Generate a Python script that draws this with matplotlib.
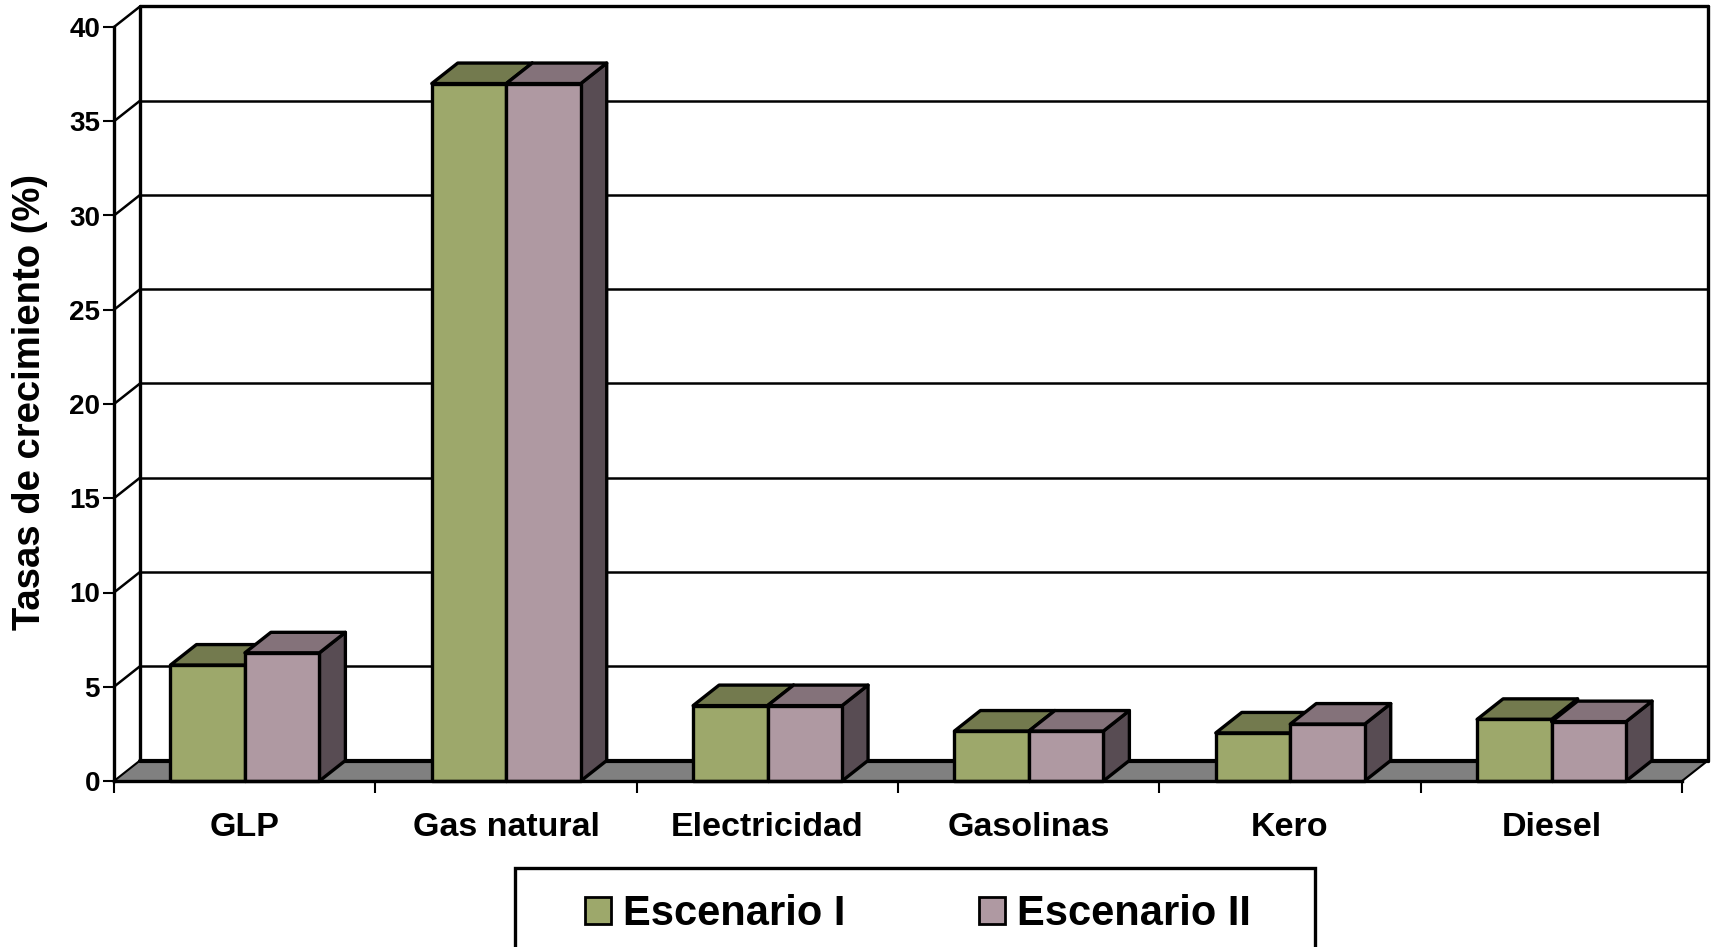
import matplotlib
matplotlib.use('Agg')
import matplotlib.pyplot as plt
from matplotlib.patches import Polygon, Patch, Rectangle

categorias = ['GLP', 'Gas natural', 'Electricidad', 'Gasolinas', 'Kero', 'Diesel']
escenario_1 = [6.15, 37.0, 4.0, 2.65, 2.55, 3.27]
escenario_2 = [6.8, 37.0, 4.0, 2.65, 3.02, 3.15]
y_ticks = [0, 5, 10, 15, 20, 25, 30, 35, 40]

plt.rcParams['font.family'] = ['Liberation Sans', 'DejaVu Sans']
plt.rcParams['font.weight'] = 'bold'

W, H = 1715, 947
fig = plt.figure(figsize=(W / 100, H / 100), dpi=100, facecolor='white')
ax = fig.add_axes([114 / W, (H - 781) / H, (1682 - 114) / W, 754 / H])
ax.set_xlim(0, 6)
ax.set_ylim(0, 40)

# depth of the fake 3d, in data units
dx = 26 / 261.5
dy = 20.5 / 18.85
bar_w = 0.285
offset = 0.216
lw_main = 2.4
lw_grid = 1.8


def poly(points, color, z, lw=lw_main):
    ax.add_patch(Polygon(points, closed=True, facecolor=color, edgecolor='black',
                         linewidth=lw, joinstyle='round', zorder=z, clip_on=False))


def line(xs, ys, lw=lw_grid, z=2):
    ax.plot(xs, ys, color='black', linewidth=lw, zorder=z, clip_on=False,
            solid_capstyle='round')


def bar3d(x, value, front, top, side, z):
    poly([(x + bar_w, 0), (x + bar_w + dx, dy), (x + bar_w + dx, value + dy), (x + bar_w, value)], side, z)
    poly([(x, value), (x + dx, value + dy), (x + bar_w + dx, value + dy), (x + bar_w, value)], top, z)
    poly([(x, 0), (x + bar_w, 0), (x + bar_w, value), (x, value)], front, z)


# walls and gridlines
for v in y_ticks[1:]:
    line([0, dx], [v, v + dy])
    line([dx, 6 + dx], [v + dy, v + dy], lw=lw_main if v == 40 else lw_grid)
line([dx, dx], [dy, 40 + dy], lw=lw_main)
line([6 + dx, 6 + dx], [dy, 40 + dy], lw=lw_main)

# floor
poly([(0, 0), (6, 0), (6 + dx, dy), (dx, dy)], '#808080', 3, lw=0)
line([dx, 6 + dx], [dy, dy], lw=3, z=3)
line([0, dx], [0, dy], lw=1.5, z=3)
line([6, 6 + dx], [0, dy], lw=1.5, z=3)

for i in range(len(categorias)):
    x1 = i + offset
    bar3d(x1, escenario_1[i], '#9DA86B', '#737A4E', '#5B6040', 4 + i * 0.1)
    bar3d(x1 + bar_w, escenario_2[i], '#AF99A2', '#84727A', '#584C53', 4.05 + i * 0.1)

for s in ['top', 'right']:
    ax.spines[s].set_visible(False)
for s in ['left', 'bottom']:
    ax.spines[s].set_linewidth(lw_main)
    ax.spines[s].set_zorder(6)

ax.set_xticks(range(7))
ax.set_xticklabels([])
ax.set_xticks([i + 0.5 for i in range(6)], categorias, minor=True)
ax.tick_params(axis='x', which='major', length=8.6, width=1.5)
ax.tick_params(axis='x', which='minor', length=0, pad=22.5, labelsize=24.5)
ax.set_yticks(y_ticks)
ax.tick_params(axis='y', length=8, width=1.5, pad=2, labelsize=20)
fig.text(30 / W, (H - 402) / H, 'Tasas de crecimiento (%)', rotation=90,
         fontsize=27.5, fontweight='bold', ha='center', va='center')

# legend box runs off the bottom of the figure
fig.add_artist(Rectangle((515 / W, -10 / H), 800 / W, (H - 868 + 10) / H, transform=fig.transFigure,
                         facecolor='white', edgecolor='black', linewidth=lw_main))
handles = [Patch(facecolor='#9DA86B', edgecolor='black', linewidth=2, label='Escenario I'),
           Patch(facecolor='#AF99A2', edgecolor='black', linewidth=2, label='Escenario II')]
fig.legend(handles=handles, loc='center', bbox_to_anchor=(918 / W, (H - 914) / H), ncols=2,
           frameon=False, fontsize=30, handlelength=0.62, handleheight=0.6,
           handletextpad=0.30, columnspacing=3.2, borderpad=0)

fig.savefig('out.png', dpi=100)
